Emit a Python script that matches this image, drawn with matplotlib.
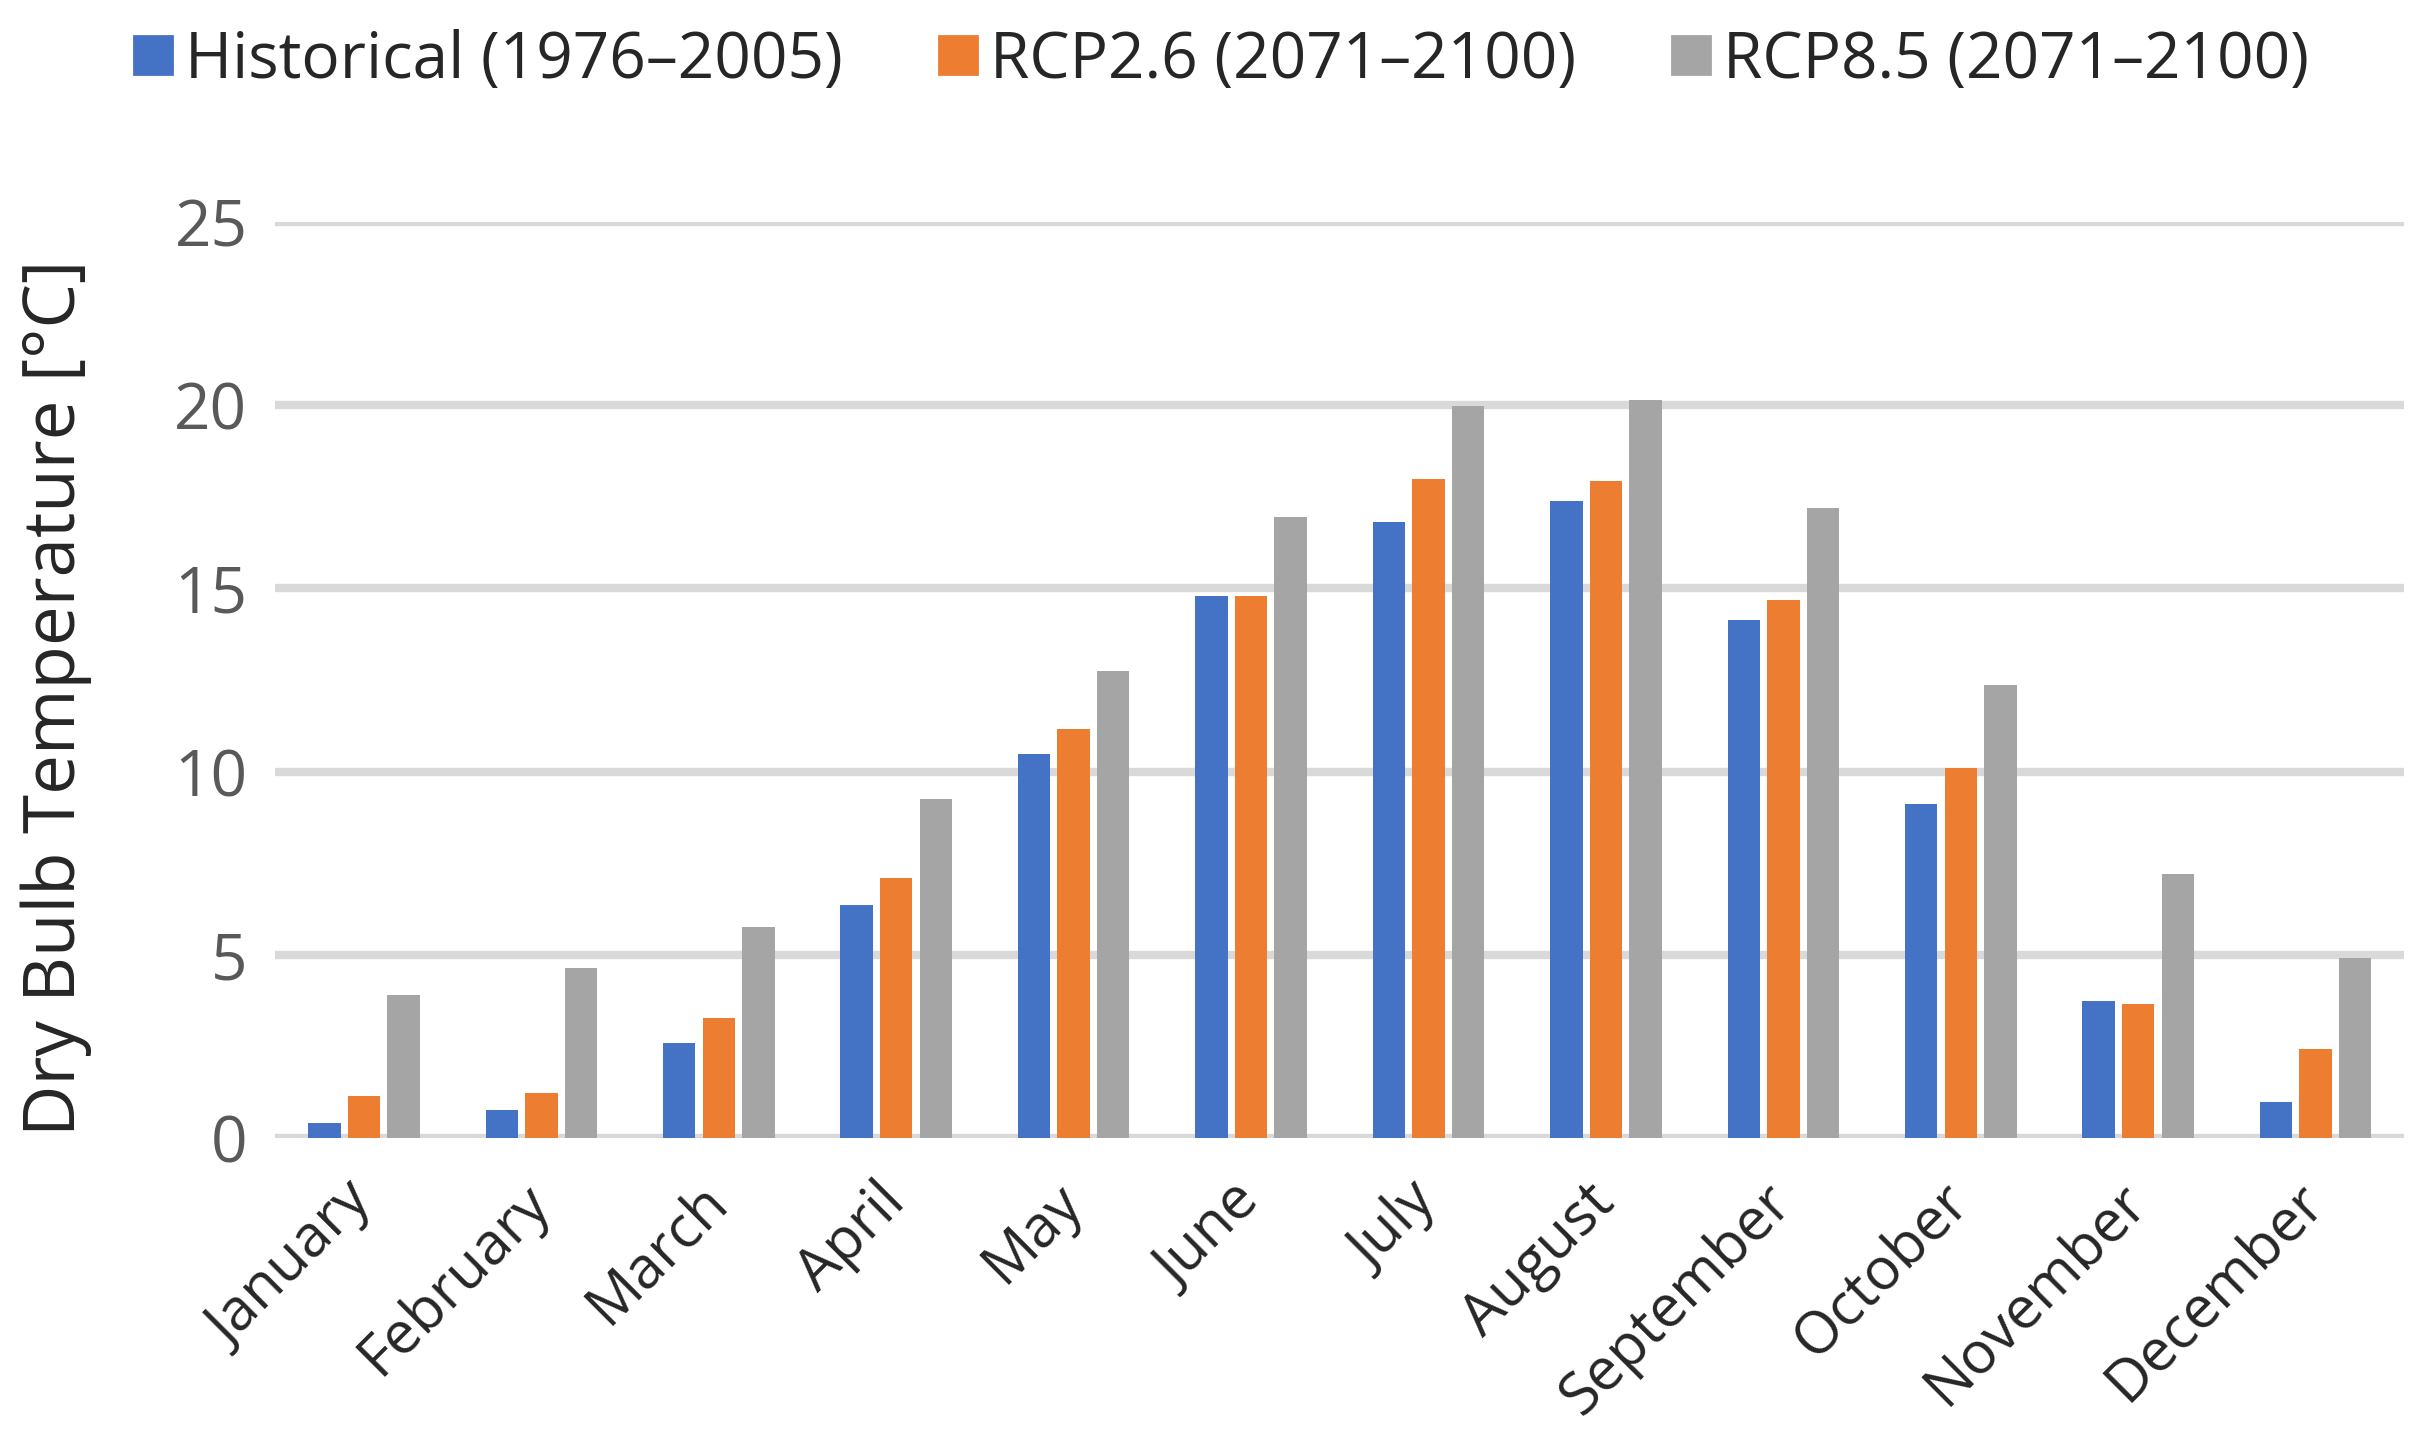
import matplotlib
matplotlib.use("Agg")
import matplotlib.pyplot as plt
import numpy as np
from matplotlib.lines import Line2D

months = ["January", "February", "March", "April", "May", "June", "July",
          "August", "September", "October", "November", "December"]
historical = [0.40, 0.77, 2.60, 6.35, 10.48, 14.78, 16.82, 17.38, 14.14, 9.11, 3.75, 0.98]
rcp26 = [1.15, 1.23, 3.28, 7.10, 11.16, 14.78, 17.97, 17.93, 14.69, 10.09, 3.66, 2.43]
rcp85 = [3.90, 4.64, 5.75, 9.24, 12.73, 16.95, 19.97, 20.14, 17.20, 12.35, 7.20, 4.90]
series_names = ["Historical (1976\u20132005)", "RCP2.6 (2071\u20132100)", "RCP8.5 (2071\u20132100)"]
colors = ["#4472C4", "#ED7D31", "#A5A5A5"]
yticks = [0, 5, 10, 15, 20, 25]

plt.rcParams['font.family'] = ['Open Sans', 'DejaVu Sans']

fig = plt.figure(figsize=(12.18, 7.245), dpi=200)
ax = fig.add_axes([0.113, 0.2146, 0.874, 0.6324])

x = np.arange(len(months))
w = 0.183
step = 0.223
for i, (vals, c) in enumerate(zip([historical, rcp26, rcp85], colors)):
    ax.bar(x + (i - 1) * step, vals, width=w, color=c, zorder=3)

ax.set_xlim(-0.5, len(months) - 0.5)
ax.set_ylim(0, 25)
ax.set_yticks(yticks)
ax.set_yticklabels([str(t) for t in yticks], fontsize=23, color="#595959")
ax.yaxis.grid(True, color="#D9D9D9", linewidth=3.0, zorder=0)
ax.set_axisbelow(True)
for s in ["top", "right", "left", "bottom"]:
    ax.spines[s].set_visible(False)
ax.axhline(0, color="#D9D9D9", linewidth=3.2, zorder=2)
ax.tick_params(axis='y', length=0, pad=10)
ax.tick_params(axis='x', length=0, pad=20)
ax.set_xticks(x)
ax.set_xticklabels(months, rotation=45, ha='right', va='center',
                   rotation_mode='anchor', fontsize=21, color="#262626")
ax.set_ylabel("Dry Bulb Temperature [\u00b0C]", fontsize=25.5, color="#262626")
ax.yaxis.set_label_coords(-0.086, 0.48)

handles = [Line2D([0], [0], marker='s', linestyle='none', markersize=14,
                  markerfacecolor=c, markeredgecolor=c) for c in colors]
fig.legend(handles, series_names, loc='center', bbox_to_anchor=(0.5, 0.958),
           ncol=3, frameon=False, fontsize=23, handletextpad=0.1,
           columnspacing=1.4, handlelength=0.8, labelcolor="#262626")

fig.savefig("out.png", dpi=200)
